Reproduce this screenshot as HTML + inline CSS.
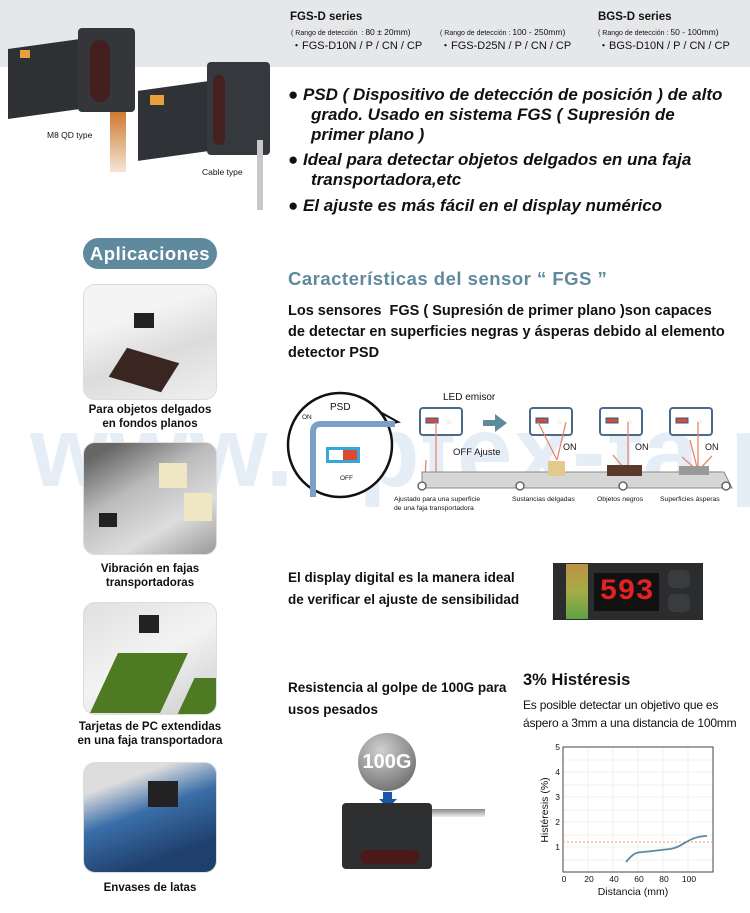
<!DOCTYPE html>
<html><head><meta charset="utf-8"><style>
*{margin:0;padding:0;box-sizing:border-box}
body{width:750px;height:913px;background:#fff;position:relative;overflow:hidden;font-family:"Liberation Sans",sans-serif;color:#111}
.a{position:absolute;white-space:nowrap}
.b{font-weight:bold}
.card{position:absolute;left:83px;width:134px;border:1px solid #ddd;border-radius:12px;overflow:hidden}
.cap{position:absolute;left:60px;width:180px;text-align:center;font-size:11.5px;font-weight:bold;line-height:14px}
.bl{font-size:17px;font-weight:bold;font-style:italic;line-height:20px}
</style></head><body>
<div class="a" style="left:0;top:0;width:750px;height:67px;background:#e6e7e9"></div>
<!-- watermark -->
<div class="a" style="left:0;top:380px;width:750px;height:130px;overflow:hidden"><div class="a" style="left:30px;top:15px;font-size:100px;font-weight:bold;color:#e3edf7;letter-spacing:2px;opacity:.9">www.optex-fa.pe</div></div>

<!-- sensors -->
<div class="a" style="left:8px;top:44px;width:72px;height:70px;background:#2e3034;transform:skewY(-8deg)"></div>
<div class="a" style="left:78px;top:28px;width:57px;height:84px;background:#34363a;border-radius:4px"></div>
<div class="a" style="left:90px;top:40px;width:20px;height:62px;background:#4a1a1a;border-radius:10px;opacity:.8"></div>
<div class="a" style="left:20px;top:50px;width:10px;height:8px;background:#e7a03a"></div>
<div class="a" style="left:110px;top:112px;width:16px;height:60px;background:linear-gradient(#d07a30,#f3e6d6)"></div>
<div class="a" style="left:138px;top:86px;width:70px;height:70px;background:#2f3237;transform:skewY(-8deg)"></div>
<div class="a" style="left:207px;top:62px;width:63px;height:93px;background:#35383c;border-radius:4px"></div>
<div class="a" style="left:213px;top:75px;width:12px;height:70px;background:#4a1a1a;border-radius:6px;opacity:.8"></div>
<div class="a" style="left:150px;top:95px;width:14px;height:10px;background:#e7a03a"></div>
<div class="a" style="left:257px;top:140px;width:6px;height:70px;background:#c8c8c8"></div>
<div class="a" style="left:47px;top:130px;font-size:8.5px">M8 QD type</div>
<div class="a" style="left:202px;top:167px;font-size:8.5px">Cable type</div>

<!-- series -->
<div class="a b" style="left:290px;top:11px;font-size:11.5px">FGS-D series</div>
<div class="a" style="left:291px;top:27px;font-size:7px">( Rango de detección&nbsp;&nbsp;: <span style="font-size:8.5px">80 ± 20mm)</span></div>
<div class="a" style="left:291px;top:37px;font-size:11px">・FGS-D10N / P / CN / CP</div>
<div class="a" style="left:440px;top:27px;font-size:7px">( Rango de detección&nbsp;: <span style="font-size:8.5px">100 - 250mm)</span></div>
<div class="a" style="left:440px;top:37px;font-size:11px">・FGS-D25N / P / CN / CP</div>
<div class="a b" style="left:598px;top:11px;font-size:11.5px">BGS-D series</div>
<div class="a" style="left:598px;top:27px;font-size:7px">( Rango de detección&nbsp;: <span style="font-size:8.5px">50 - 100mm)</span></div>
<div class="a" style="left:598px;top:37px;font-size:11px">・BGS-D10N / P / CN / CP</div>

<!-- bullets -->
<div class="a bl" style="left:288px;top:85px">● PSD ( Dispositivo de detección de posición ) de alto</div>
<div class="a bl" style="left:311px;top:105px">grado. Usado en sistema FGS ( Supresión de</div>
<div class="a bl" style="left:311px;top:125px">primer plano )</div>
<div class="a bl" style="left:288px;top:150px">● Ideal para detectar objetos delgados en una faja</div>
<div class="a bl" style="left:311px;top:170px">transportadora,etc</div>
<div class="a bl" style="left:288px;top:196px">● El ajuste es más fácil en el display numérico</div>

<!-- Aplicaciones -->
<div class="a b" style="left:83px;top:238px;width:134px;height:31px;border-radius:16px;background:#5f8a9e;color:#fff;font-size:18.5px;text-align:center;line-height:31px;letter-spacing:.5px">Aplicaciones</div>
<div class="card" style="top:284px;height:116px;background:linear-gradient(160deg,#f4f4f4 30%,#dcdcdc 60%,#f0f0f0)"><div style="position:absolute;left:30px;top:70px;width:60px;height:30px;background:#3a2620;transform:skewX(-20deg) rotate(15deg)"></div><div style="position:absolute;left:50px;top:28px;width:20px;height:15px;background:#222"></div></div>
<div class="cap" style="top:403px">Para objetos delgados<br>en fondos planos</div>
<div class="card" style="top:442px;height:113px;background:linear-gradient(150deg,#666 10%,#bbb 40%,#ddd 70%,#999)"><div style="position:absolute;left:75px;top:20px;width:28px;height:25px;background:#efe6c4"></div><div style="position:absolute;left:100px;top:50px;width:28px;height:28px;background:#efe6c4"></div><div style="position:absolute;left:15px;top:70px;width:18px;height:14px;background:#222"></div></div>
<div class="cap" style="top:562px">Vibración en fajas<br>transportadoras</div>
<div class="card" style="top:602px;height:113px;background:linear-gradient(150deg,#e0e0e0,#f3f3f3 50%,#ccc)"><div style="position:absolute;left:20px;top:50px;width:70px;height:60px;background:#4d7a22;transform:skewX(-25deg)"></div><div style="position:absolute;left:100px;top:75px;width:40px;height:45px;background:#4d7a22;transform:skewX(-25deg)"></div><div style="position:absolute;left:55px;top:12px;width:20px;height:18px;background:#222"></div></div>
<div class="cap" style="top:720px">Tarjetas de PC extendidas<br>en una faja transportadora</div>
<div class="card" style="top:762px;height:111px;background:linear-gradient(160deg,#ddd 20%,#3a6ea8 45%,#1f3f6c 80%)"><div style="position:absolute;left:64px;top:18px;width:30px;height:26px;background:#222"></div></div>
<div class="cap" style="top:881px">Envases de latas</div>

<!-- Caracteristicas -->
<div class="a b" style="left:288px;top:268px;font-size:18.5px;color:#5f8a9e;letter-spacing:.5px">Características del sensor “ FGS ”</div>
<div class="a" style="left:288px;top:301px;font-size:14.5px;font-weight:bold;line-height:21px;color:#111">Los sensores&nbsp; FGS ( Supresión de primer plano )son capaces<br>de detectar en superficies negras y ásperas debido al elemento<br>detector PSD</div>

<!-- diagram -->
<svg class="a" style="left:280px;top:380px" width="470" height="140" viewBox="0 0 470 140">
 <g font-family="Liberation Sans" fill="#111">
 <path d="M82 22 L118 42 L84 48" fill="#fff" stroke="#111" stroke-width="2"/>
 <circle cx="60" cy="65" r="52" fill="#fff" stroke="#111" stroke-width="2.5"/>
 <path d="M33 117 L33 52 Q33 44 41 44 L115 44" fill="none" stroke="#7aa0c8" stroke-width="6"/>
 <rect x="46" y="67" width="34" height="16" fill="#35a8d8"/>
 <rect x="49" y="70" width="14" height="10" fill="#fff"/><rect x="63" y="70" width="14" height="10" fill="#d94a33"/>
 <text x="50" y="30" font-size="10">PSD</text>
 <text x="22" y="39" font-size="6.5">ON</text><text x="60" y="100" font-size="6.5">OFF</text>
 <text x="163" y="20" font-size="10">LED emisor</text>
 <g id="s"><rect x="140" y="28" width="42" height="27" rx="3" fill="#fff" stroke="#4a6a88" stroke-width="2"/><rect x="146" y="38" width="12" height="5" fill="#d94a33" stroke="#1f5fa0"/><text x="166" y="44" font-size="7" fill="#e8c050">☆</text></g>
 <use href="#s" x="110"/><use href="#s" x="180"/><use href="#s" x="250"/>
 <path d="M203 40 L215 40 L215 34 L227 43 L215 52 L215 46 L203 46Z" fill="#5f8a9e"/>
 <path d="M145 100 L146 80 M156 100 L156 42" stroke="#e6866a" stroke-width="1.3" fill="none"/>
 <path d="M277 80 L258 42 M277 80 L286 42" stroke="#e6866a" stroke-width="1.3"/>
 <path d="M348 93 L348 42 M348 93 L333 75" stroke="#e6866a" stroke-width="1.3"/>
 <path d="M418 91 L418 42 M418 91 L402 77 M418 91 L432 76 M418 91 L410 60" stroke="#e6866a" stroke-width="1.3"/>
 <path d="M142 92 L444 92 L452 108 L142 108 Z" fill="#d6d6d6" stroke="#888"/>
 <rect x="268" y="81" width="17" height="15" fill="#e3c98d"/>
 <rect x="327" y="85" width="35" height="11" fill="#5a3a2a"/>
 <rect x="399" y="86" width="30" height="9" fill="#999"/>
 <circle cx="142" cy="106" r="4" fill="#fff" stroke="#555" stroke-width="1.3"/>
 <circle cx="240" cy="106" r="4" fill="#fff" stroke="#555" stroke-width="1.3"/>
 <circle cx="343" cy="106" r="4" fill="#fff" stroke="#555" stroke-width="1.3"/>
 <circle cx="446" cy="106" r="4" fill="#fff" stroke="#555" stroke-width="1.3"/>
 <text x="173" y="75" font-size="9.5">OFF Ajuste</text>
 <text x="283" y="70" font-size="9">ON</text><text x="355" y="70" font-size="9">ON</text><text x="425" y="70" font-size="9">ON</text>
 <text x="114" y="121" font-size="6.8">Ajustado para una superficie</text>
 <text x="114" y="130" font-size="6.8">de una faja transportadora</text>
 <text x="232" y="121" font-size="6.8">Sustancias delgadas</text>
 <text x="317" y="121" font-size="6.8">Objetos negros</text>
 <text x="380" y="121" font-size="6.8">Superficies ásperas</text>
 </g>
</svg>

<!-- display -->
<div class="a b" style="left:288px;top:567px;font-size:13.5px;line-height:22px">El display digital es la manera ideal<br>de verificar el ajuste de sensibilidad</div>
<div class="a" style="left:553px;top:563px;width:150px;height:57px;background:#2b2c2e"></div>
<div class="a" style="left:566px;top:564px;width:22px;height:55px;background:linear-gradient(#d9a24a,#b9c44a,#6ab44a);opacity:.85"></div>
<div class="a" style="left:594px;top:573px;width:65px;height:38px;background:#111;color:#e52222;font-family:'Liberation Mono',monospace;font-size:30px;font-weight:bold;text-align:center;line-height:38px">593</div>
<div class="a" style="left:668px;top:570px;width:22px;height:18px;border-radius:6px;background:#3a3b3d"></div>
<div class="a" style="left:668px;top:594px;width:22px;height:18px;border-radius:6px;background:#3a3b3d"></div>

<!-- 100G -->
<div class="a b" style="left:288px;top:677px;font-size:13.5px;line-height:22px">Resistencia al golpe de 100G para<br>usos pesados</div>
<div class="a" style="left:358px;top:733px;width:58px;height:58px;border-radius:50%;background:radial-gradient(circle at 40% 30%,#d0d0d0,#5a5a5a);color:#fff;font-weight:bold;font-size:20px;text-align:center;line-height:58px">100G</div>
<div class="a" style="left:383px;top:792px;width:9px;height:8px;background:#1c56a8"></div>
<div class="a" style="left:379px;top:799px;width:0;height:0;border-left:9px solid transparent;border-right:9px solid transparent;border-top:9px solid #1c56a8"></div>
<div class="a" style="left:425px;top:809px;width:60px;height:8px;background:linear-gradient(#888,#eee)"></div>
<div class="a" style="left:342px;top:803px;width:90px;height:66px;background:#2e2f31;border-radius:4px"></div>
<div class="a" style="left:360px;top:850px;width:60px;height:14px;background:#4a1a1a;border-radius:7px"></div>

<!-- Histeresis -->
<div class="a b" style="left:523px;top:671px;font-size:16.5px">3% Histéresis</div>
<div class="a" style="left:523px;top:696px;font-size:12px;line-height:18px;letter-spacing:-.2px">Es posible detectar un objetivo que es<br>áspero a 3mm a una distancia de 100mm</div>
<svg class="a" style="left:520px;top:740px" width="230" height="165" viewBox="0 0 230 165">
 <g font-family="Liberation Sans" fill="#111">
 <g stroke="#ececec" stroke-width="0.8">
  <line x1="43" y1="7" x2="193" y2="7"/><line x1="43" y1="20" x2="193" y2="20"/><line x1="43" y1="32" x2="193" y2="32"/><line x1="43" y1="45" x2="193" y2="45"/><line x1="43" y1="57" x2="193" y2="57"/><line x1="43" y1="70" x2="193" y2="70"/><line x1="43" y1="82" x2="193" y2="82"/><line x1="43" y1="95" x2="193" y2="95"/><line x1="43" y1="107" x2="193" y2="107"/><line x1="43" y1="120" x2="193" y2="120"/>
  <line x1="68" y1="7" x2="68" y2="132"/><line x1="93" y1="7" x2="93" y2="132"/><line x1="118" y1="7" x2="118" y2="132"/><line x1="143" y1="7" x2="143" y2="132"/><line x1="168" y1="7" x2="168" y2="132"/>
 </g>
 <rect x="43" y="7" width="150" height="125" fill="none" stroke="#444" stroke-width="1"/>
 <line x1="43" y1="102" x2="193" y2="102" stroke="#f0a070" stroke-width="1" stroke-dasharray="2,2"/>
 <path d="M106 122 C112 115,115 112,123 112 C135 111,140 110,150 109 C158 108,162 104,170 100 C176 97,182 96,187 96" fill="none" stroke="#5a8aa0" stroke-width="1.8"/>
 <g font-size="8.5" text-anchor="end"><text x="40" y="10">5</text><text x="40" y="35">4</text><text x="40" y="60">3</text><text x="40" y="85">2</text><text x="40" y="110">1</text></g>
 <g font-size="8.5" text-anchor="middle"><text x="44" y="142">0</text><text x="69" y="142">20</text><text x="94" y="142">40</text><text x="119" y="142">60</text><text x="144" y="142">80</text><text x="169" y="142">100</text></g>
 <text x="113" y="155" font-size="10.5" text-anchor="middle">Distancia (mm)</text>
 <text transform="translate(28,70) rotate(-90)" font-size="10.5" text-anchor="middle">Histéresis (%)</text>
 </g>
</svg>
</body></html>
